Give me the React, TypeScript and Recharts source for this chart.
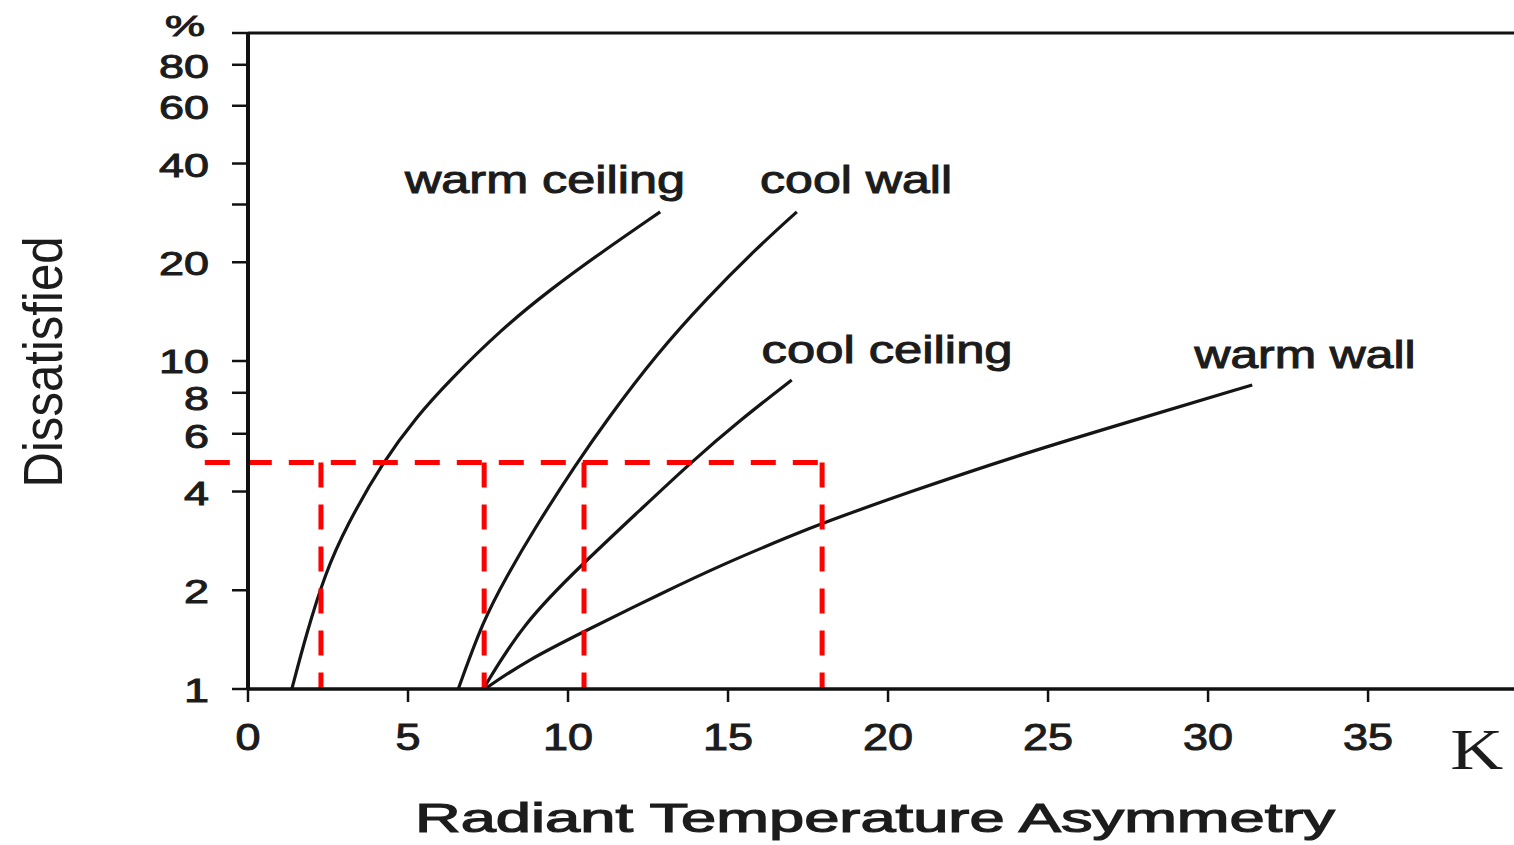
import React from "react";
import {
  LineChart,
  Line,
  XAxis,
  YAxis,
  ReferenceLine,
  ReferenceDot,
} from "recharts";

// ---------- data ----------
const xTicks = [0, 5, 10, 15, 20, 25, 30, 35];
const yTicks = [1, 2, 4, 6, 8, 10, 20, 30, 40, 60, 80, 100];
const yTickLabels = ["1", "2", "4", "6", "8", "10", "20", "", "40", "60", "80", "%"];

const warmCeilingX = [1.37, 1.83, 2.41, 3.08, 4.23, 5.27, 6.31, 7.88, 9.44, 11.0, 12.88];
const warmCeilingY = [1.0, 1.48, 2.25, 3.15, 4.95, 6.77, 8.75, 12.4, 16.5, 21.3, 28.5];

const coolWallX = [6.57, 7.35, 8.08, 8.92, 10.27, 11.21, 12.77, 14.33, 15.9, 17.15];
const coolWallY = [1.0, 1.62, 2.2, 3.05, 4.88, 6.61, 10.5, 15.5, 22.1, 28.5];

const coolCeilingX = [7.35, 8.6, 10.48, 12.25, 13.81, 15.38, 16.99];
const coolCeilingY = [1.0, 1.59, 2.42, 3.51, 4.88, 6.61, 8.75];

const warmWallX = [7.4, 8.7, 10.58, 12.88, 14.96, 17.04, 17.94, 20.5, 24.3, 27.88, 31.38];
const warmWallY = [1.0, 1.22, 1.51, 1.95, 2.43, 2.95, 3.2, 3.94, 5.25, 6.68, 8.45];

const curveLabels = ["warm ceiling", "cool wall", "cool ceiling", "warm wall"];
const curveLabelX = [9.28, 19.0, 19.97, 33.03];
const curveLabelY = [35.6, 35.6, 10.8, 10.4];

const thresholdY = 4.9;
const thresholdStartX = -1.35;
const thresholdXs = [2.28, 7.38, 10.5, 17.94];

const xTitle = "Radiant Temperature Asymmetry";
const yTitle = "Dissatisfied";
const unitLabel = "K";

// ---------- helpers ----------
const zip = (xs: number[], ys: number[]) => xs.map((x, i) => ({ x, y: ys[i] }));
const series = [
  { name: "warm ceiling", data: zip(warmCeilingX, warmCeilingY) },
  { name: "cool wall", data: zip(coolWallX, coolWallY) },
  { name: "cool ceiling", data: zip(coolCeilingX, coolCeilingY) },
  { name: "warm wall", data: zip(warmWallX, warmWallY) },
];

const FONT = "'Liberation Sans', Arial, Helvetica, sans-serif";
const INK = "#1c1c1c";
const RED = "#ff0000";
const THICK = { stroke: INK, strokeWidth: 1 };

const labelWidths: Record<string, number> = {
  "warm ceiling": 280,
  "cool wall": 192,
  "cool ceiling": 251,
  "warm wall": 221,
};

const XTick = (props: any) => {
  const { x, payload } = props;
  const s = String(payload.value);
  return (
    <text
      x={x}
      y={737}
      textAnchor="middle"
      dominantBaseline="central"
      fontFamily={FONT}
      fontSize={36}
      fill={INK}
      {...THICK}
      textLength={s.length * 25}
      lengthAdjust="spacingAndGlyphs"
    >
      {s}
    </text>
  );
};

const yOffsets: Record<string, number> = { "10": -1, "8": 4, "6": 1 };

const YTick = (props: any) => {
  const { y, payload } = props;
  const idx = yTicks.indexOf(payload.value);
  const s = idx >= 0 ? yTickLabels[idx] : "";
  if (!s) return null;
  const isPct = s === "%";
  return (
    <text
      x={isPct ? 185 : 209}
      y={isPct ? y - 8 : y + 1 + (yOffsets[s] ?? 0)}
      textAnchor={isPct ? "middle" : "end"}
      dominantBaseline="central"
      fontFamily={FONT}
      fontSize={isPct ? 30 : 34}
      fill={INK}
      {...THICK}
      textLength={isPct ? 40 : s.length * 25}
      lengthAdjust="spacingAndGlyphs"
    >
      {s}
    </text>
  );
};

export default function App() {
  return (
    <div
      style={{
        position: "absolute",
        left: 0,
        top: 0,
        width: 1514,
        height: 845,
        background: "#ffffff",
        overflow: "hidden",
      }}
    >
      <LineChart
        width={1514}
        height={845}
        margin={{ top: 33, right: 0, left: 148, bottom: 96 }}
      >
        <XAxis
          type="number"
          dataKey="x"
          domain={[0, 39.56]}
          ticks={xTicks}
          allowDataOverflow
          height={60}
          axisLine={{ stroke: "#111", strokeWidth: 3.5 }}
          tickLine={{ stroke: "#111", strokeWidth: 2.5 }}
          tickSize={13}
          tick={<XTick />}
          label={{
            content: () => (
              <text
                x={875}
                y={818}
                textAnchor="middle"
                dominantBaseline="central"
                fontFamily={FONT}
                fontSize={41}
                fill={INK}
                stroke={INK}
                strokeWidth={1.2}
                textLength={920}
                lengthAdjust="spacingAndGlyphs"
              >
                {xTitle}
              </text>
            ),
          }}
        />
        <YAxis
          type="number"
          dataKey="y"
          scale="log"
          domain={[1, 100]}
          ticks={yTicks}
          allowDataOverflow
          width={100}
          axisLine={{ stroke: "#111", strokeWidth: 4 }}
          tickLine={{ stroke: "#111", strokeWidth: 2.5 }}
          tickSize={16}
          tick={<YTick />}
          interval={0}
          label={{
            content: () => (
              <text
                transform="translate(42,362) rotate(-90)"
                textAnchor="middle"
                dominantBaseline="central"
                fontFamily={FONT}
                fontSize={56}
                fill={INK}
                textLength={251}
                lengthAdjust="spacingAndGlyphs"
              >
                {yTitle}
              </text>
            ),
          }}
        />

        <ReferenceLine y={100} stroke="#111" strokeWidth={3} ifOverflow="visible" />

        {series.map((s) => (
          <Line
            key={s.name}
            data={s.data}
            dataKey="y"
            type="basis"
            stroke="#151515"
            strokeWidth={3.2}
            dot={false}
            activeDot={false}
            isAnimationActive={false}
          />
        ))}

        <ReferenceLine
          segment={[
            { x: thresholdStartX, y: thresholdY },
            { x: thresholdXs[thresholdXs.length - 1], y: thresholdY },
          ]}
          stroke={RED}
          strokeWidth={5}
          strokeDasharray="25 17"
          ifOverflow="visible"
        />
        {thresholdXs.map((v) => (
          <ReferenceLine
            key={v}
            segment={[
              { x: v, y: thresholdY },
              { x: v, y: 1 },
            ]}
            stroke={RED}
            strokeWidth={5}
            strokeDasharray="25 17"
            ifOverflow="visible"
          />
        ))}

        {curveLabels.map((name, i) => (
          <ReferenceDot
            key={name}
            x={curveLabelX[i]}
            y={curveLabelY[i]}
            r={0}
            fill="none"
            stroke="none"
            ifOverflow="visible"
            label={{
              content: (p: any) => {
                const vb = p.viewBox || {};
                const cx = (vb.x ?? 0) + (vb.width ?? 0) / 2;
                const cy = (vb.y ?? 0) + (vb.height ?? 0) / 2;
                return (
                  <text
                    x={cx}
                    y={cy}
                    textAnchor="middle"
                    dominantBaseline="central"
                    fontFamily={FONT}
                    fontSize={38}
                    fill={INK}
                    {...THICK}
                    textLength={labelWidths[name]}
                    lengthAdjust="spacingAndGlyphs"
                  >
                    {name}
                  </text>
                );
              },
            }}
          />
        ))}

        <ReferenceDot
          x={38.4}
          y={0.652}
          r={0}
          fill="none"
          stroke="none"
          ifOverflow="visible"
          label={{
            content: (p: any) => {
              const vb = p.viewBox || {};
              const cx = (vb.x ?? 0) + (vb.width ?? 0) / 2;
              const cy = (vb.y ?? 0) + (vb.height ?? 0) / 2;
              return (
                <text
                  x={cx}
                  y={cy}
                  textAnchor="middle"
                  dominantBaseline="central"
                  fontFamily="'Liberation Serif', 'Times New Roman', serif"
                  fontSize={56}
                  fill={INK}
                  textLength={53}
                  lengthAdjust="spacingAndGlyphs"
                >
                  {unitLabel}
                </text>
              );
            },
          }}
        />
      </LineChart>
    </div>
  );
}
